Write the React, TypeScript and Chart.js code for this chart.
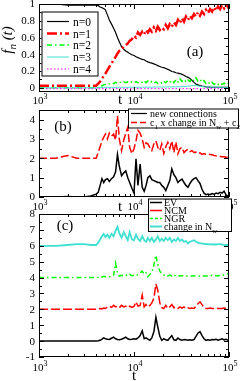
import React, { useEffect, useRef } from "react";
import { Chart, registerables } from "chart.js";
Chart.register(...registerables);

const FONT = '"Liberation Serif", "Times New Roman", serif';

// shared time grid
const T = [
  1000, 1500, 2000, 2500, 3000, 3500, 4000, 4200, 4400, 4600,
  4800, 5000, 5250, 5500, 5800, 6100, 6400, 6700, 7000, 7400,
  7800, 8200, 8600, 9000, 9500, 10000, 10500, 11000, 11600, 12200,
  12800, 13400, 14000, 14700, 15400, 16200, 17000, 17800, 18700, 19600,
  20600, 21600, 22700, 23800, 25000, 26300, 27600, 29000, 30400, 32000,
  33600, 35200, 37000, 38800, 40700, 42800, 44900, 47100, 49500, 52000,
  54600, 57300, 60200, 63200, 66300, 69600, 73100, 76800, 80600, 84600,
  88800, 93300, 98000, 100000,
];

// panel (a)
const aN0 = [
  1.0, 1.0, 0.985, 0.985, 0.985, 0.985, 0.985, 0.98, 0.965, 0.955,
  0.945, 0.93, 0.87, 0.81, 0.76, 0.71, 0.66, 0.6, 0.55, 0.49,
  0.46, 0.44, 0.425, 0.41, 0.395, 0.385, 0.37, 0.36, 0.35, 0.34,
  0.335, 0.32, 0.31, 0.3, 0.295, 0.285, 0.275, 0.265, 0.255, 0.245,
  0.24, 0.23, 0.22, 0.21, 0.195, 0.19, 0.18, 0.175, 0.17, 0.16,
  0.15, 0.135, 0.125, 0.11, 0.09, 0.065, 0.045, 0.035, 0.028, 0.022,
  0.017, 0.012, 0.009, 0.007, 0.006, 0.005, 0.005, 0.005, 0.005, 0.005,
  0.005, 0.005, 0.005, 0.005,
];
const aN1 = [
  0.025, 0.025, 0.025, 0.025, 0.025, 0.025, 0.025, 0.05, 0.075, 0.11,
  0.14, 0.17, 0.21, 0.25, 0.29, 0.33, 0.37, 0.41, 0.44, 0.46,
  0.49, 0.51, 0.53, 0.56, 0.58, 0.62, 0.6, 0.66, 0.63, 0.67,
  0.64, 0.69, 0.66, 0.7, 0.67, 0.72, 0.68, 0.73, 0.69, 0.72,
  0.7, 0.75, 0.71, 0.76, 0.73, 0.78, 0.75, 0.81, 0.77, 0.83,
  0.79, 0.85, 0.81, 0.86, 0.83, 0.88, 0.85, 0.9, 0.86, 0.91,
  0.88, 0.93, 0.89, 0.94, 0.91, 0.96, 0.92, 0.97, 0.94, 0.99,
  0.95, 1.0, 0.96, 0.98,
];
const aN2 = [
  0, 0, 0, 0, 0, 0, 0, 0.005, 0.015, 0.025,
  0.035, 0.04, 0.05, 0.045, 0.06, 0.05, 0.065, 0.055, 0.07, 0.06,
  0.075, 0.06, 0.07, 0.055, 0.07, 0.06, 0.075, 0.06, 0.08, 0.065,
  0.085, 0.06, 0.08, 0.06, 0.075, 0.055, 0.07, 0.05, 0.07, 0.055,
  0.08, 0.06, 0.085, 0.065, 0.09, 0.06, 0.1, 0.07, 0.11, 0.075,
  0.1, 0.07, 0.095, 0.075, 0.11, 0.08, 0.12, 0.08, 0.1, 0.065,
  0.085, 0.05, 0.07, 0.045, 0.065, 0.04, 0.06, 0.04, 0.06, 0.04,
  0.055, 0.035, 0.05, 0.045,
];
const aN3 = [
  0, 0, 0, 0, 0, 0, 0, 0.002, 0.004, 0.003,
  0.005, 0.004, 0.006, 0.004, 0.005, 0.006, 0.004, 0.006, 0.005, 0.007,
  0.005, 0.006, 0.005, 0.007, 0.006, 0.008, 0.006, 0.007, 0.006, 0.008,
  0.007, 0.009, 0.007, 0.008, 0.007, 0.009, 0.008, 0.01, 0.008, 0.01,
  0.009, 0.011, 0.01, 0.012, 0.01, 0.013, 0.011, 0.014, 0.012, 0.015,
  0.014, 0.017, 0.018, 0.022, 0.025, 0.03, 0.028, 0.022, 0.018, 0.014,
  0.012, 0.01, 0.009, 0.008, 0.008, 0.007, 0.007, 0.006, 0.006, 0.006,
  0.005, 0.005, 0.005, 0.005,
];
const aN4 = [
  -0.01, -0.01, -0.01, -0.01, -0.01, -0.01, -0.01, -0.01, -0.01, -0.01,
  -0.01, -0.01, -0.01, -0.01, -0.01, -0.01, -0.01, -0.01, -0.01, -0.01,
  -0.01, -0.01, -0.01, -0.01, -0.01, -0.01, -0.01, -0.01, -0.01, -0.01,
  -0.01, -0.01, -0.01, -0.01, -0.01, -0.01, -0.01, -0.01, -0.01, -0.01,
  -0.01, -0.01, -0.01, -0.01, -0.01, -0.01, -0.01, -0.01, -0.01, -0.01,
  -0.01, -0.01, -0.01, -0.01, -0.01, -0.01, -0.01, -0.01, -0.01, -0.01,
  -0.01, -0.01, -0.01, -0.01, -0.01, -0.01, -0.01, -0.01, -0.01, -0.01,
  -0.01, -0.01, -0.01, -0.01,
];

// panel (b)
const bRed = [
  2.0, 2.0, 2.15, 2.0, 2.0, 2.0, 2.0, 2.3, 2.6, 2.9,
  3.1, 3.25, 3.0, 3.3, 3.15, 3.25, 2.95, 4.2, 3.0, 2.4,
  2.95, 3.3, 3.6, 2.57, 2.24, 2.5, 2.9, 3.45, 3.3, 3.0,
  2.57, 2.8, 2.75, 2.55, 2.4, 2.75, 2.9, 2.57, 2.4, 2.75,
  2.25, 2.6, 2.83, 2.5, 2.9, 2.3, 2.85, 2.24, 2.5, 2.57,
  2.3, 2.4, 2.47, 2.35, 2.4, 2.3, 2.32, 2.24, 2.28, 2.2,
  2.25, 2.2, 2.22, 2.2, 2.18, 2.15, 2.13, 2.12, 2.1, 2.08,
  2.08, 2.06, 2.05, 2.05,
];
const bBlack = [
  0, 0, 0.03, 0, 0, 0.05, 0.15, 0.24, 0.6, 0.95,
  0.75, 0.9, 0.95, 0.8, 0.95, 1.05, 1.3, 2.2, 1.6, 1.1,
  1.25, 1.35, 1.0, 0.75, 0.45, 0.2, 1.97, 0.6, 1.7, 0.5,
  0.3, 0.6, 1.0, 1.1, 0.9, 0.85, 0.8, 0.75, 0.75, 0.6,
  0.5, 0.33, 0.6, 0.85, 1.45, 1.15, 1.0, 0.75, 0.85, 0.93,
  0.75, 0.6, 0.5, 0.7, 0.85, 0.95, 1.0, 0.85, 0.7, 0.4,
  0.2, 0.12, 0.15, 0.12, 0.18, 0.14, 0.2, 0.17, 0.24, 0.2,
  0.3, 0.1, 0.05, 0.05,
];

// panel (c)
const cCyan = [
  6.0, 6.0, 6.05, 6.1, 6.1, 6.05, 6.05, 6.2, 6.4, 6.6,
  6.75, 6.55, 6.7, 6.5, 6.75, 6.6, 6.95, 7.2, 6.8, 6.5,
  6.85, 6.6, 6.35, 6.85, 6.4, 6.35, 6.7, 6.45, 6.3, 6.6,
  6.35, 6.25, 6.5, 6.3, 6.5, 6.25, 6.4, 6.6, 6.3, 6.45,
  6.3, 6.5, 6.35, 6.5, 6.25, 6.4, 6.3, 6.5, 6.3, 6.4,
  6.25, 6.3, 6.15, 6.25, 6.3, 6.35, 6.25, 6.2, 6.15, 6.15,
  6.1, 6.12, 6.1, 6.08, 6.1, 6.08, 6.08, 6.1, 6.1, 6.08,
  6.06, 6.05, 6.05, 6.05,
];
const cGreen = [
  4.0, 4.0, 4.0, 4.0, 4.0, 4.0, 4.0, 4.02, 4.05, 4.03,
  4.08, 4.05, 4.1, 4.05, 4.1, 4.15, 4.9, 4.3, 4.1, 4.15,
  4.12, 4.18, 4.1, 4.2, 4.12, 4.15, 4.1, 4.2, 4.3, 4.4,
  4.2, 4.3, 4.05, 4.2, 4.35, 4.8, 5.4, 4.8, 4.4, 4.25,
  4.15, 4.2, 4.1, 4.15, 4.1, 4.18, 4.1, 4.15, 4.1, 4.12,
  4.08, 4.1, 4.08, 4.1, 4.08, 4.12, 4.1, 4.1, 4.08, 4.12,
  4.1, 4.1, 4.12, 4.1, 4.15, 4.1, 4.12, 4.1, 4.15, 4.12,
  4.18, 4.2, 4.25, 4.25,
];
const cRed = [
  2.0, 2.0, 2.0, 2.0, 2.0, 2.0, 2.0, 2.02, 2.05, 2.03,
  2.08, 2.05, 2.15, 2.2, 2.12, 2.25, 2.15, 2.2, 2.1, 2.25,
  2.15, 2.2, 2.1, 2.2, 2.12, 2.18, 2.47, 2.2, 2.25, 2.9,
  2.15, 2.3, 2.15, 2.25, 2.4, 2.7, 3.6, 3.2, 2.4, 2.1,
  2.05, 2.25, 2.05, 2.15, 2.3, 2.1, 2.15, 2.05, 2.15, 2.08,
  2.15, 2.05, 2.1, 2.05, 2.08, 2.05, 2.2, 2.35, 2.47, 2.3,
  2.12, 2.05, 2.05, 2.08, 2.05, 2.05, 2.08, 2.05, 2.06, 2.05,
  2.08, 2.05, 2.1, 2.1,
];
const cBlack = [
  0, 0, 0, 0, 0, 0, 0, 0.02, 0.05, 0.12,
  0.2, 0.15, 0.12, 0.1, 0.18, 0.25, 0.15, 0.1, 0.08, 0.12,
  0.18, 0.25, 0.15, 0.1, 0.12, 0.15, 0.12, 0.2, 0.35, 0.65,
  0.15, 0.2, 0.12, 0.05, 0.2, 0.6, 1.5, 0.9, 0.3, 0.05,
  0.15, 0.08, 0.05, 0.2, 0.35, 0.08, 0.05, 0.2, 0.1, 0.05,
  0.1, 0.08, 0.05, 0.08, 0.05, 0.1, 0.3, 0.5, 0.6, 0.35,
  0.15, 0.05, 0.08, 0.05, 0.1, 0.08, 0.12, 0.06, 0.1, 0.15,
  0.08, 0.12, 0.05, 0.1,
];

// ticks
const xDecades = [3, 4, 5];
const aYTicks = [0, 0.2, 0.4, 0.6, 0.8, 1];
const aYLabels = ["0", "0.2", "0.4", "0.6", "0.8", "1"];
const aYMinor = [0.1, 0.3, 0.5, 0.7, 0.9];
const bYTicks = [0, 1, 2, 3, 4];
const bYLabels = ["0", "1", "2", "3", "4"];
const bYMinor = [0.5, 1.5, 2.5, 3.5];
const cYTicks = [-1, 0, 1, 2, 3, 4, 5, 6, 7, 8];
const cYLabels = ["-1", "0", "1", "2", "3", "4", "5", "6", "7", "8"];
const cYMinor = [-0.5, 0.5, 1.5, 2.5, 3.5, 4.5, 5.5, 6.5, 7.5];

const aLegend = ["n=0", "n=1", "n=2", "n=3", "n=4"];
const cLegend = ["EV", "NCM", "NGR"];

type Run = { t: string; k?: "sub" | "sup"; it?: boolean };

function fontFor(r: Run, size: number) {
  const s = r.k ? Math.round(size * 0.72) : size;
  return `${r.it ? "italic " : ""}${s}px ${FONT}`;
}
function runsWidth(ctx: CanvasRenderingContext2D, runs: Run[], size: number) {
  let w = 0;
  for (const r of runs) {
    ctx.font = fontFor(r, size);
    w += ctx.measureText(r.t).width;
  }
  return w;
}
function drawRuns(
  ctx: CanvasRenderingContext2D,
  x: number,
  y: number,
  runs: Run[],
  size: number,
  align: "left" | "center" | "right" = "left"
) {
  const w = runsWidth(ctx, runs, size);
  let cx = align === "center" ? x - w / 2 : align === "right" ? x - w : x;
  ctx.textAlign = "left";
  ctx.textBaseline = "alphabetic";
  for (const r of runs) {
    ctx.font = fontFor(r, size);
    const dy = r.k === "sub" ? size * 0.28 : r.k === "sup" ? -size * 0.42 : 0;
    ctx.fillText(r.t, cx, y + dy);
    cx += ctx.measureText(r.t).width;
  }
}

type AxSpec = {
  yTicks: number[];
  yLabels: string[];
  yMinor: number[];
  xLabOff: number;
  tPos: [number, number] | null;
};

function drawAxes(chart: any, o: AxSpec) {
  const { ctx, chartArea: a, scales } = chart;
  const x = scales.x;
  const y = scales.y;
  ctx.save();
  ctx.strokeStyle = "#000";
  ctx.lineWidth = 1;
  ctx.beginPath();
  for (const d of xDecades) {
    for (let m = 1; m <= 9; m++) {
      const t = m * Math.pow(10, d);
      if (t > 100000) break;
      const px = Math.round(x.getPixelForValue(t)) + 0.5;
      const len = m === 1 ? 5 : 3;
      ctx.moveTo(px, a.bottom);
      ctx.lineTo(px, a.bottom - len);
      ctx.moveTo(px, a.top);
      ctx.lineTo(px, a.top + len);
    }
  }
  const yt = (v: number, len: number) => {
    const py = Math.round(y.getPixelForValue(v)) + 0.5;
    ctx.moveTo(a.left, py);
    ctx.lineTo(a.left + len, py);
    ctx.moveTo(a.right, py);
    ctx.lineTo(a.right - len, py);
  };
  o.yTicks.forEach((v) => yt(v, 5));
  o.yMinor.forEach((v) => yt(v, 3));
  ctx.stroke();
  ctx.strokeRect(a.left + 0.5, a.top + 0.5, a.right - a.left - 1, a.bottom - a.top - 1);

  ctx.fillStyle = "#000";
  ctx.font = `11px ${FONT}`;
  ctx.textAlign = "right";
  ctx.textBaseline = "middle";
  o.yTicks.forEach((v, i) => {
    ctx.fillText(o.yLabels[i], a.left - 4, y.getPixelForValue(v) + 0.5);
  });
  for (const d of xDecades) {
    drawRuns(ctx, x.getPixelForValue(Math.pow(10, d)) + 1, a.bottom + o.xLabOff, [{ t: "10" }, { t: String(d), k: "sup" }], 11, "center");
  }
  if (o.tPos) {
    ctx.font = `15px ${FONT}`;
    ctx.textAlign = "center";
    ctx.textBaseline = "alphabetic";
    ctx.fillText("t", o.tPos[0], o.tPos[1]);
  }
  ctx.restore();
}

type LegItem = { runs: Run[]; color: string; width: number; dash: number[] };
function drawLegend(
  ctx: CanvasRenderingContext2D,
  box: [number, number, number, number],
  items: LegItem[],
  rows: number[],
  s0: number,
  s1: number,
  tx: number,
  size: number
) {
  ctx.save();
  ctx.fillStyle = "#fff";
  ctx.fillRect(box[0], box[1], box[2], box[3]);
  ctx.strokeStyle = "#000";
  ctx.lineWidth = 1;
  ctx.setLineDash([]);
  ctx.strokeRect(box[0] + 0.5, box[1] + 0.5, box[2], box[3]);
  items.forEach((it, i) => {
    const yy = rows[i];
    ctx.beginPath();
    ctx.strokeStyle = it.color;
    ctx.lineWidth = it.width;
    ctx.setLineDash(it.dash);
    ctx.moveTo(s0, yy);
    ctx.lineTo(s1, yy);
    ctx.stroke();
    ctx.setLineDash([]);
    ctx.fillStyle = "#000";
    drawRuns(ctx, tx, yy + size * 0.35, it.runs, size, "left");
  });
  ctx.restore();
}

function label(ctx: CanvasRenderingContext2D, text: string, x: number, y: number) {
  ctx.save();
  ctx.fillStyle = "#000";
  ctx.font = `15px ${FONT}`;
  ctx.textAlign = "center";
  ctx.textBaseline = "middle";
  ctx.fillText(text, x, y);
  ctx.restore();
}

function ds(vals: number[], color: string, width: number, dash: number[]) {
  return {
    data: T.map((t, i) => ({ x: t, y: vals[i] })),
    borderColor: color,
    borderWidth: width,
    borderDash: dash,
    pointRadius: 0,
    fill: false,
    tension: 0,
  };
}

function makeConfig(datasets: any[], yMin: number, yMax: number, pad: any, draw: (c: any) => void) {
  return {
    type: "line" as const,
    data: { datasets },
    options: {
      animation: false,
      responsive: false,
      devicePixelRatio: 1,
      layout: { padding: pad },
      parsing: false,
      normalized: true,
      plugins: { legend: { display: false }, tooltip: { enabled: false } },
      scales: {
        x: { type: "logarithmic", min: 1000, max: 100000, display: false },
        y: { type: "linear", min: yMin, max: yMax, display: false },
      },
    },
    plugins: [{ id: "decor", afterDraw: (c: any) => draw(c) }],
  };
}

const W = 240;
const H = 381;

export default function App() {
  const ra = useRef<HTMLCanvasElement>(null);
  const rb = useRef<HTMLCanvasElement>(null);
  const rc = useRef<HTMLCanvasElement>(null);

  useEffect(() => {
    const charts: Chart[] = [];
    const A = { n0: "#000000", n1: "#ff0000", n2: "#00ff00", n3: "#40e0d0", n4: "#ff00ff" };
    const aItems: LegItem[] = [
      { runs: [{ t: aLegend[0] }], color: A.n0, width: 1.2, dash: [] },
      { runs: [{ t: aLegend[1] }], color: A.n1, width: 2.5, dash: [10, 3, 2, 3] },
      { runs: [{ t: aLegend[2] }], color: A.n2, width: 1.5, dash: [5, 3, 1.5, 3] },
      { runs: [{ t: aLegend[3] }], color: A.n3, width: 1, dash: [] },
      { runs: [{ t: aLegend[4] }], color: A.n4, width: 1, dash: [1.5, 2] },
    ];
    charts.push(
      new Chart(
        ra.current!,
        makeConfig(
          [
            ds(aN4, A.n4, 1, [1.5, 2]),
            ds(aN3, A.n3, 1, []),
            ds(aN2, A.n2, 1.5, [5, 3, 1.5, 3]),
            ds(aN1, A.n1, 2.5, [10, 3, 2, 3]),
            ds(aN0, A.n0, 1.2, []),
          ],
          -0.05,
          1.0,
          { left: 39, right: 11, top: 4, bottom: H - 92 },
          (c) => {
            drawAxes(c, { yTicks: aYTicks, yLabels: aYLabels, yMinor: aYMinor, xLabOff: 11.5, tPos: [120, 104] });
            const ctx = c.ctx as CanvasRenderingContext2D;
            drawLegend(ctx, [41.5, 11.5, 56, 64], aItems, [21.5, 33.5, 45, 57, 69], 47, 69, 73, 11.5);
            label(ctx, "(a)", 195, 52);
            ctx.save();
            ctx.fillStyle = "#000";
            ctx.translate(12, 40);
            ctx.rotate(-Math.PI / 2);
            drawRuns(ctx, 0, 0, [{ t: "f", it: true }, { t: "n", k: "sub", it: true }, { t: " (t)", it: true }], 15, "center");
            ctx.restore();
          }
        ) as any
      )
    );

    const bItems: LegItem[] = [
      { runs: [{ t: "new connections" }], color: "#000", width: 1.2, dash: [] },
      {
        runs: [{ t: "c" }, { t: "1", k: "sub" }, { t: " x change in N" }, { t: "w", k: "sub" }, { t: " + c" }, { t: "2", k: "sub" }],
        color: "#ff0000",
        width: 1.5,
        dash: [6, 3],
      },
    ];
    charts.push(
      new Chart(
        rb.current!,
        makeConfig(
          [ds(bRed, "#ff0000", 1.5, [8, 3]), ds(bBlack, "#000000", 1.5, [])],
          0,
          4.5,
          { left: 39, right: 11, top: 110, bottom: H - 197 },
          (c) => {
            drawAxes(c, { yTicks: bYTicks, yLabels: bYLabels, yMinor: bYMinor, xLabOff: 13, tPos: [120, 211] });
            const ctx = c.ctx as CanvasRenderingContext2D;
            drawLegend(ctx, [128, 108.5, 110, 19], bItems, [113.5, 122.5], 131, 147, 150, 10);
            label(ctx, "(b)", 63, 127);
          }
        ) as any
      )
    );

    const cItems: LegItem[] = [
      { runs: [{ t: cLegend[0] }], color: "#000", width: 1.5, dash: [] },
      { runs: [{ t: cLegend[1] }], color: "#ff0000", width: 1.5, dash: [] },
      { runs: [{ t: cLegend[2] }], color: "#00ff00", width: 1.5, dash: [3, 2] },
      { runs: [{ t: "change in N" }, { t: "w", k: "sub" }], color: "#40e0d0", width: 2, dash: [] },
    ];
    charts.push(
      new Chart(
        rc.current!,
        makeConfig(
          [
            ds(cCyan, "#40e0d0", 1.8, []),
            ds(cGreen, "#00ff00", 1.5, [5, 3, 1.5, 3]),
            ds(cRed, "#ff0000", 1.5, [9, 3]),
            ds(cBlack, "#000000", 1.5, []),
          ],
          -1,
          8,
          { left: 39, right: 11, top: 214, bottom: H - 357 },
          (c) => {
            drawAxes(c, { yTicks: cYTicks, yLabels: cYLabels, yMinor: cYMinor, xLabOff: 14, tPos: [134, 380] });
            const ctx = c.ctx as CanvasRenderingContext2D;
            drawLegend(ctx, [148, 198.5, 83, 32.5], cItems, [202.5, 210.5, 218.5, 226.5], 150, 162, 164, 10);
            label(ctx, "(c)", 65, 226);
          }
        ) as any
      )
    );
    return () => charts.forEach((c) => c.destroy());
  }, []);

  const cs: React.CSSProperties = { position: "absolute", left: 0, top: 0, width: W, height: H };
  return (
    <div style={{ position: "fixed", left: 0, top: 0, width: W, height: H, background: "#fff" }}>
      <canvas ref={ra} width={W} height={H} style={cs} />
      <canvas ref={rb} width={W} height={H} style={cs} />
      <canvas ref={rc} width={W} height={H} style={cs} />
    </div>
  );
}
